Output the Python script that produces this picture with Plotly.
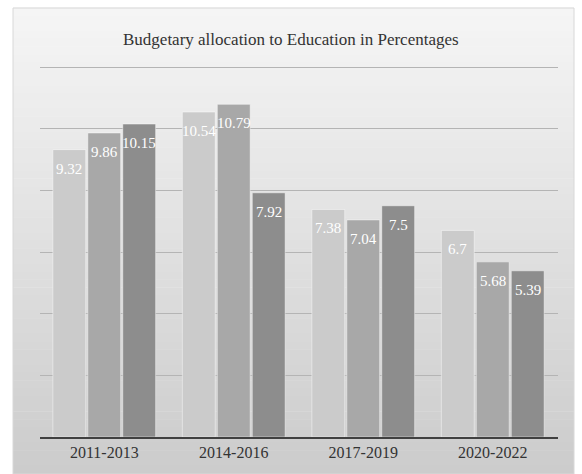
import plotly.graph_objects as go

categories = ["2011-2013", "2014-2016", "2017-2019", "2020-2022"]
series_a = [9.32, 10.54, 7.38, 6.7]
series_b = [9.86, 10.79, 7.04, 5.68]
series_c = [10.15, 7.92, 7.5, 5.39]
series_names = ["Series 1", "Series 2", "Series 3"]
bar_colors = ["#cbcbcb", "#a8a8a8", "#8d8d8d"]
title_text = "Budgetary allocation to Education in Percentages"

W, H = 582, 474
SERIF = "Liberation Serif, Times New Roman, serif"

fig = go.Figure()
all_series = [series_a, series_b, series_c]
for name, vals, col in zip(series_names, all_series, bar_colors):
    fig.add_trace(go.Bar(
        x=categories, y=vals, name=name,
        marker=dict(color=col, line=dict(color="rgba(255,255,255,0.45)", width=1)),
        hoverinfo="x+y",
    ))

# data labels (white, inside near the top of each bar)
x0_px, x1_px = 39.5, 557.5
cat_w = (x1_px - x0_px) / len(categories)
bargap = 0.19
slot = cat_w * (1 - bargap) / 3
annotations = []
for i, vals in enumerate(all_series):
    for c, v in zip(categories, vals):
        annotations.append(dict(
            x=c, y=v, xref="x", yref="y", text=str(v), showarrow=False,
            xshift=(i - 1) * slot, yshift=-19, yanchor="middle",
            font=dict(family=SERIF, size=15, color="white"),
        ))

# title
annotations.append(dict(
    x=0.5, y=1 - 40 / H, xref="paper", yref="paper", text=title_text,
    showarrow=False, yanchor="middle",
    font=dict(family=SERIF, size=17, color="#333333"),
))

# gradient panel background
shapes = []
top_px, bot_px = 8, 474
left_px, right_px = 13, 574
N = 60
c_top = (245, 245, 245)
c_bot = (204, 204, 204)
for k in range(N):
    t = k / (N - 1)
    col = tuple(int(round(a + (b - a) * t)) for a, b in zip(c_top, c_bot))
    ya = top_px + (bot_px - top_px) * k / N
    yb = top_px + (bot_px - top_px) * (k + 1) / N
    shapes.append(dict(
        type="rect", xref="paper", yref="paper", layer="below",
        x0=left_px / W, x1=right_px / W, y0=1 - yb / H, y1=1 - ya / H + 0.001,
        fillcolor="rgb(%d,%d,%d)" % col, line=dict(width=0),
    ))
shapes.append(dict(
    type="rect", xref="paper", yref="paper", layer="below",
    x0=left_px / W, x1=right_px / W, y0=0, y1=1 - top_px / H,
    fillcolor="rgba(0,0,0,0)", line=dict(color="#d8d8d8", width=1),
))

y_top = 12.06
px_per_unit = (437 - 67) / 12.0
fig.update_layout(
    width=W, height=H,
    margin=dict(l=0, r=0, t=0, b=0),
    paper_bgcolor="white", plot_bgcolor="rgba(0,0,0,0)",
    barmode="group", bargap=bargap, bargroupgap=0.06,
    showlegend=False,
    annotations=annotations, shapes=shapes,
    xaxis=dict(
        domain=[x0_px / W, x1_px / W],
        showline=True, linecolor="#404040", linewidth=2,
        showgrid=False, ticks="",
        tickfont=dict(family=SERIF, size=16, color="#333333"),
        fixedrange=True,
    ),
    yaxis=dict(
        domain=[(H - 437) / H, (H - (437 - y_top * px_per_unit)) / H],
        range=[0, y_top], dtick=2,
        showgrid=True, gridcolor="#b4b4b4", gridwidth=1,
        showticklabels=False, zeroline=False, ticks="",
        fixedrange=True,
    ),
)

fig.write_html("out.html")
